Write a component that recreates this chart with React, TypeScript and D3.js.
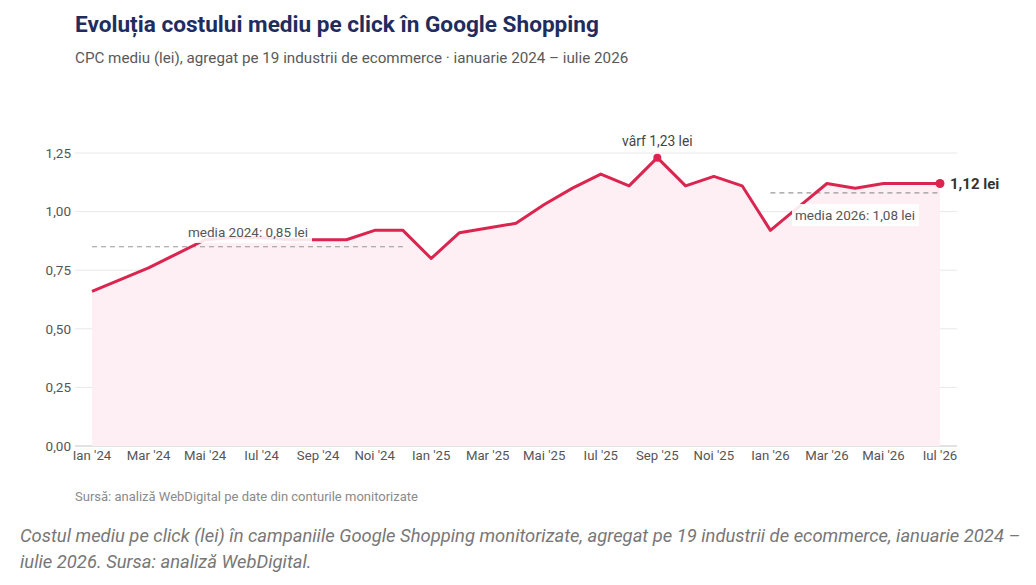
import React from "react";
import * as d3 from "d3";

const months = [
  "Ian '24","Feb '24","Mar '24","Apr '24","Mai '24","Iun '24","Iul '24","Aug '24","Sep '24","Oct '24","Noi '24","Dec '24",
  "Ian '25","Feb '25","Mar '25","Apr '25","Mai '25","Iun '25","Iul '25","Aug '25","Sep '25","Oct '25","Noi '25","Dec '25",
  "Ian '26","Feb '26","Mar '26","Apr '26","Mai '26","Iun '26","Iul '26",
];
const cpc = [
  0.66, 0.71, 0.76, 0.82, 0.88, 0.89, 0.89, 0.88, 0.88, 0.88, 0.92, 0.92,
  0.80, 0.91, 0.93, 0.95, 1.03, 1.10, 1.16, 1.11, 1.23, 1.11, 1.15, 1.11,
  0.92, 1.02, 1.12, 1.10, 1.12, 1.12, 1.12,
];
const yTicks = [0, 0.25, 0.5, 0.75, 1.0, 1.25];
const mean2024 = 0.85;
const mean2026 = 1.08;
const peakIndex = 20;

const W = 1036;
const H = 585;
const FONT = "Roboto, 'Noto Sans', sans-serif";
const LINE = "#d92550";
const FILL = "#fdeff3";

export default function App() {
  const x = d3.scaleLinear().domain([0, months.length - 1]).range([92, 940]);
  const y = d3.scaleLinear().domain([0, 1.25]).range([446, 153]);
  const fmt = (v: number) => v.toFixed(2).replace(".", ",");

  const line = d3.line<number>().x((_, i) => x(i)).y((d) => y(d));
  const area = d3.area<number>().x((_, i) => x(i)).y0(y(0)).y1((d) => y(d));

  const last = cpc.length - 1;

  return (
    <svg width={W} height={H} style={{ position: "absolute", left: 0, top: 0, background: "#fff" }} fontFamily={FONT}>
      <text x={75} y={32} fontSize={22.6} fontWeight={700} fill="#1f2d5e">Evoluția costului mediu pe click în Google Shopping</text>
      <text x={75} y={63} fontSize={15.2} fill="#595959">CPC mediu (lei), agregat pe 19 industrii de ecommerce · ianuarie 2024 – iulie 2026</text>

      {yTicks.map((t) => (
        <g key={t}>
          <line x1={75} x2={957} y1={y(t)} y2={y(t)} stroke={t === 0 ? "#d9d9d9" : "#e8e8e8"} strokeWidth={t === 0 ? 1.5 : 1} />
          <text x={71} y={y(t)} dy="0.35em" textAnchor="end" fontSize={13.5} fill="#555">{fmt(t)}</text>
        </g>
      ))}

      <path d={area(cpc) || ""} fill={FILL} />

      <line x1={x(0)} x2={x(11)} y1={y(mean2024)} y2={y(mean2024)} stroke="#999" strokeWidth={1.2} strokeDasharray="5 4" />
      <line x1={x(24)} x2={x(last)} y1={y(mean2026)} y2={y(mean2026)} stroke="#999" strokeWidth={1.2} strokeDasharray="5 4" />

      <path d={line(cpc) || ""} fill="none" stroke={LINE} strokeWidth={3} strokeLinejoin="round" />

      <rect x={185} y={223} width={127} height={20} fill="#fff" fillOpacity={0.88} />
      <text x={188} y={237} fontSize={13.5} fill="#555">media 2024: 0,85 lei</text>

      <rect x={792} y={204} width={127} height={22} fill="#fff" fillOpacity={0.9} />
      <text x={795} y={220} fontSize={13.5} fill="#555">media 2026: 1,08 lei</text>

      <circle cx={x(peakIndex)} cy={y(cpc[peakIndex])} r={4} fill={LINE} />
      <text x={x(peakIndex)} y={146} textAnchor="middle" fontSize={13.8} fill="#444">vârf {fmt(cpc[peakIndex])} lei</text>

      <circle cx={x(last)} cy={y(cpc[last])} r={4.5} fill={LINE} />
      <text x={950} y={y(cpc[last])} dy="0.35em" fontSize={15} fontWeight={700} fill="#333">{fmt(cpc[last])} lei</text>

      {months.map((m, i) => (i % 2 === 0 ? (
        <text key={m} x={x(i)} y={460} textAnchor="middle" fontSize={13.2} fill="#555">{m}</text>
      ) : null))}

      <text x={75} y={501} fontSize={13} fill="#8a8a8a">Sursă: analiză WebDigital pe date din conturile monitorizate</text>

      <text x={20} y={542} fontSize={18.4} fontStyle="italic" fill="#777">Costul mediu pe click (lei) în campaniile Google Shopping monitorizate, agregat pe 19 industrii de ecommerce, ianuarie 2024 –</text>
      <text x={20} y={568} fontSize={18.4} fontStyle="italic" fill="#777">iulie 2026. Sursa: analiză WebDigital.</text>
    </svg>
  );
}
